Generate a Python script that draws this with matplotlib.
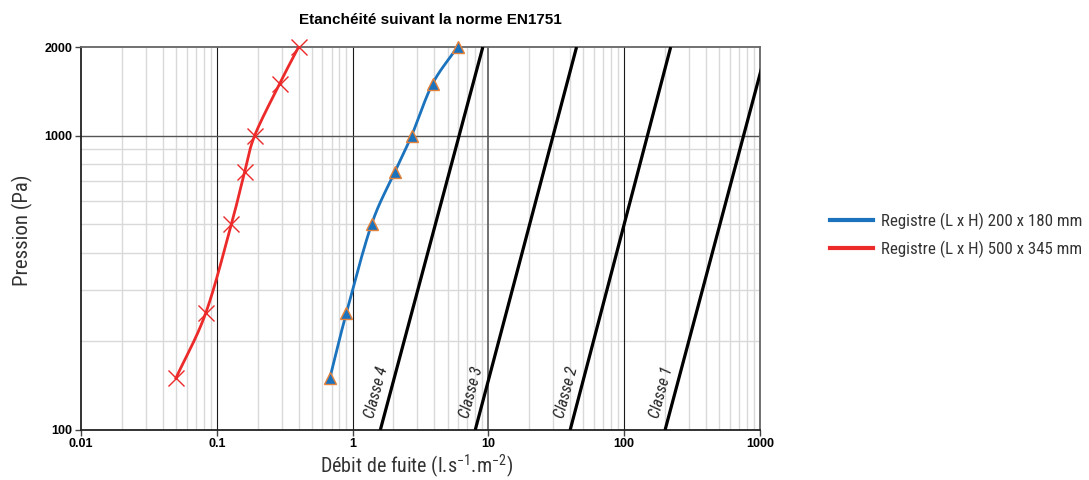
import numpy as np
import matplotlib
matplotlib.use("Agg")
import matplotlib.pyplot as plt
from matplotlib.ticker import FixedLocator, NullFormatter, NullLocator
from matplotlib import font_manager
from matplotlib.font_manager import FontProperties

# ---- data -------------------------------------------------------------
pressure = [150, 250, 500, 750, 1000, 1500, 2000]            # Pa
leak_200x180 = [0.68, 0.90, 1.38, 2.04, 2.72, 3.88, 5.93]     # l/s/m2
leak_500x345 = [0.050, 0.083, 0.128, 0.160, 0.190, 0.290, 0.400]

class_names = ["Classe 4", "Classe 3", "Classe 2", "Classe 1"]
class_pressure = [100, 2000]
class_leak = [[1.6, 9.1], [8.0, 44.6], [40.0, 220.0], [200.0, 1130.0]]

series_labels = ["Registre (L x H) 200 x 180 mm", "Registre (L x H) 500 x 345 mm"]
x_ticks = [0.01, 0.1, 1, 10, 100, 1000]
x_ticklabels = ["0.01", "0.1", "1", "10", "100", "1000"]
y_ticks = [100, 1000, 2000]
y_ticklabels = ["100", "1000", "2000"]

# ---- fonts ------------------------------------------------------------
plt.rcParams["font.family"] = ["Liberation Sans", "DejaVu Sans"]


def condensed_font():
    """Find a narrow sans-serif face among the installed fonts."""
    entries = font_manager.fontManager.ttflist
    for wanted in ["Roboto Condensed", "Liberation Sans Narrow", "Open Sans Condensed",
                   "Noto Sans Condensed", "DejaVu Sans Condensed"]:
        if any(f.name == wanted for f in entries):
            return wanted, "normal"
    for fam in ["Roboto", "Noto Sans", "Open Sans", "DejaVu Sans"]:
        for f in entries:
            if f.name == fam and str(f.stretch) in ("condensed", "semi-condensed", "extra-condensed"):
                return fam, f.stretch
    return "Liberation Sans", "normal"


narrow_family, narrow_stretch = condensed_font()


def narrow(size, style="normal"):
    return FontProperties(family=narrow_family, stretch=narrow_stretch, size=size, style=style)


plt.rcParams["mathtext.fontset"] = "custom"
plt.rcParams["mathtext.rm"] = narrow_family


def smooth(x, y, n=30):
    """Catmull-Rom curve through the points, computed in log-log space."""
    lx, ly = np.log10(x), np.log10(y)
    P = np.column_stack([lx, ly])
    P = np.vstack([P[0] - (P[1] - P[0]), P, P[-1] + (P[-1] - P[-2])])
    out = []
    t = np.linspace(0, 1, n)[:, None]
    for i in range(1, len(P) - 2):
        p0, p1, p2, p3 = P[i - 1], P[i], P[i + 1], P[i + 2]
        seg = 0.5 * ((2 * p1) + (-p0 + p2) * t + (2 * p0 - 5 * p1 + 4 * p2 - p3) * t ** 2
                     + (-p0 + 3 * p1 - 3 * p2 + p3) * t ** 3)
        out.append(seg if i == 1 else seg[1:])
    out = np.vstack(out)
    return 10 ** out[:, 0], 10 ** out[:, 1]


fig = plt.figure(figsize=(10.89, 4.8), dpi=100)
ax = fig.add_axes([81 / 1089, 1 - 430 / 480, (760 - 81) / 1089, (430 - 47) / 480])
ax.set_xscale("log")
ax.set_yscale("log")
ax.set_xlim(0.01, 1000)
ax.set_ylim(100, 2000)

# grid
minor_x = [m * 10.0 ** e for e in range(-2, 3) for m in range(2, 10)]
minor_y = [m * 100 for m in range(2, 10)]
for v in minor_x:
    ax.axvline(v, color="#d9d9d9", lw=1.0, zorder=0)
for v in minor_y:
    ax.axhline(v, color="#d9d9d9", lw=1.0, zorder=0)
for v in [0.1, 1, 100]:
    ax.axvline(v, color="#1a1a1a", lw=0.8, zorder=1)
ax.axvline(10, color="#707070", lw=1.4, zorder=1)
ax.axhline(1000, color="#555555", lw=1.0, zorder=1)

# leakage class limits
for name, lk in zip(class_names, class_leak):
    ax.plot(lk, class_pressure, color="black", lw=2.3, zorder=3, solid_capstyle="butt")
    k = np.log(lk[1] / lk[0]) / np.log(class_pressure[1] / class_pressure[0])
    p_lab = 134
    x_lab = lk[0] * (p_lab / class_pressure[0]) ** k
    ax.annotate(name, xy=(x_lab, p_lab), xytext=(-10, 0), textcoords="offset points",
                rotation=75, ha="center", va="center", fontproperties=narrow(11.5, "italic"),
                color="#222222", zorder=4)

# measured curves
bx, by = smooth(leak_200x180, pressure)
rx, ry = smooth(leak_500x345, pressure)
blue = "#1b72bd"
red = "#ec2a2a"
ax.plot(bx, by, color=blue, lw=2.0, zorder=5, label=series_labels[0])
ax.plot(leak_200x180, pressure, ls="none", marker="^", ms=8, mfc=blue,
        mec="#e5823a", mew=1.0, zorder=6, clip_on=False)
ax.plot(rx, ry, color=red, lw=2.0, zorder=5, label=series_labels[1])
ax.plot(leak_500x345, pressure, ls="none", marker="x", ms=11, mec=red,
        mew=1.0, zorder=6, clip_on=False)

# axes styling
for side in ["left", "bottom"]:
    ax.spines[side].set_color("#222222")
    ax.spines[side].set_linewidth(1.3)
for side in ["top", "right"]:
    ax.spines[side].set_color("#666666")
    ax.spines[side].set_linewidth(1.3)
ax.xaxis.set_major_locator(FixedLocator(x_ticks))
ax.xaxis.set_minor_locator(NullLocator())
ax.set_xticklabels(x_ticklabels, fontsize=9, fontweight="bold")
ax.yaxis.set_major_locator(FixedLocator(y_ticks))
ax.yaxis.set_minor_locator(NullLocator())
ax.yaxis.set_minor_formatter(NullFormatter())
ax.set_yticklabels(y_ticklabels, fontsize=9, fontweight="bold")
ax.tick_params(axis="both", length=4, width=1, color="#444444", pad=2)

fig.text(430 / 1089, 1 - 20 / 480, "Etanchéité suivant la norme EN1751",
         fontsize=11, fontweight="bold", ha="center", va="center")
ax.set_xlabel(r"Débit de fuite (l.s$^{\mathregular{-1}}$.m$^{\mathregular{-2}}$)",
              fontproperties=narrow(14.5), color="#333333")
ax.xaxis.set_label_coords((417 - 81) / 679, -(466 - 430) / 383)
ax.xaxis.label.set_va("center")
ax.set_ylabel("Pression (Pa)", fontproperties=narrow(15), color="#333333")
ax.yaxis.set_label_coords(-(81 - 22) / 679, (430 - 230) / 383)
ax.yaxis.label.set_va("center")

handles = [l for l in ax.get_lines() if l.get_label() in series_labels]
fig.legend(handles, series_labels, loc="center left", bbox_to_anchor=(815 / 1089, 1 - 235 / 480),
           frameon=False, prop=narrow(12.2), handlelength=2.5,
           handletextpad=0.5, labelspacing=0.62, labelcolor="#333333")
for l in fig.legends[-1].get_lines():
    l.set_linewidth(3)

fig.savefig("out.png", dpi=100)
